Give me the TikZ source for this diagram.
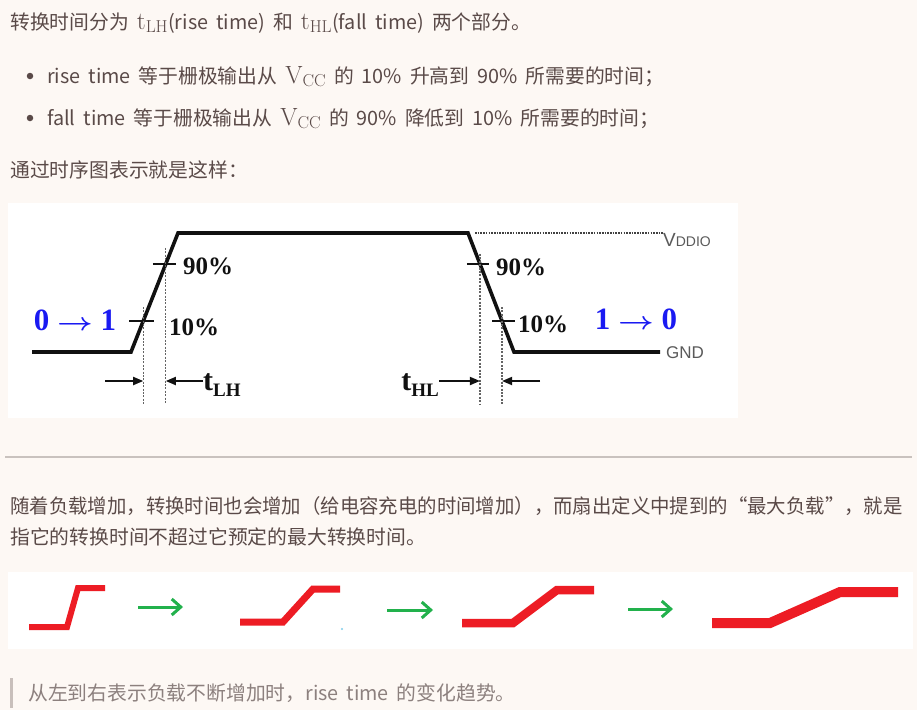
\documentclass[tikz,border=0pt]{standalone}
\usepackage{amsmath}
\usepackage[no-math]{fontspec}
\setmainfont[WordSpace=1.8]{Noto Sans CJK SC}
\newfontfamily\diagserif{Liberation Serif}
\newfontfamily\diagsans{Liberation Sans}
\usepackage{tikz}
\usetikzlibrary{arrows.meta,positioning,calc}
\definecolor{page}{HTML}{FDF8F4}
\definecolor{ink}{HTML}{5A4A48}
\definecolor{quoteink}{HTML}{8C807E}
\definecolor{quotebar}{HTML}{C8BFBB}
\definecolor{rulegray}{HTML}{C9C2BE}
\definecolor{wave}{HTML}{111111}
\definecolor{railgray}{HTML}{5A5A5A}
\definecolor{levelblue}{HTML}{1A1AF2}
\definecolor{loadred}{HTML}{ED1C24}
\definecolor{loadgreen}{HTML}{22B14C}
\definecolor{speck}{HTML}{7FCDEB}
\newcommand{\bigmath}[1]{{\fontsize{23.5}{24}\selectfont$#1$}}
\tikzset{
  bodyline/.style={anchor=base west,inner sep=0pt,text=ink,
                   font=\fontsize{19.8}{24}\selectfont},
  quoteline/.style={bodyline,text=quoteink},
  bulletdot/.style={circle,fill=ink,inner sep=0pt,minimum size=6.5pt},
  panel/.style={fill=white,draw=none},
  signal/.style={line width=3.6pt,draw=wave,line join=miter},
  tickmark/.style={line width=1.4pt,draw=wave},
  guide/.style={line width=1.1pt,draw=wave!65,dash pattern=on 2pt off 1.4pt},
  rail/.style={line width=1.2pt,draw=wave!80,dash pattern=on 1.6pt off 1.1pt},
  dimarr/.style={-{Triangle[length=10pt,width=8pt]},line width=1.8pt,draw=wave},
  pctlabel/.style={anchor=west,inner sep=0pt,text=wave,
                   font=\diagserif\bfseries\fontsize{25}{28}\selectfont},
  levellabel/.style={inner sep=0pt,text=levelblue,
                     font=\diagserif\bfseries\boldmath\fontsize{31}{34}\selectfont},
  timelabel/.style={inner sep=0pt,text=wave,
                    font=\diagserif\bfseries\fontsize{30}{32}\selectfont},
  raillabel/.style={anchor=west,inner sep=0pt,text=railgray,
                    font=\diagsans\fontsize{17}{19}\selectfont},
  loadwave/.style={draw=loadred,line join=miter},
  loadarr/.style={-{Straight Barb[length=9pt,width=16pt,line width=3pt]},
                  line width=3pt,draw=loadgreen}
}

\begin{document}
\begin{tikzpicture}[x=1pt,y=-1pt]
  \path[use as bounding box,fill=page] (0,0) rectangle (917,710);

  % text above the timing chart
  \node[bodyline] (intro) at (10,29)
    {转换时间分为 \bigmath{\mathrm{t}_{\mathrm{LH}}}(rise time) 和 \bigmath{\mathrm{t}_{\mathrm{HL}}}(fall time) 两个部分。};
  \node[bulletdot] (dotrise) at (30,76) {};
  \node[bodyline] (riseline) at (47,83)
    {rise time 等于栅极输出从 \bigmath{\mathrm{V}_{\mathrm{CC}}} 的 10\% 升高到 90\% 所需要的时间；};
  \node[bulletdot] (dotfall) at (30,118) {};
  \node[bodyline] (fallline) at (47,125)
    {fall time 等于栅极输出从 \bigmath{\mathrm{V}_{\mathrm{CC}}} 的 90\% 降低到 10\% 所需要的时间；};
  \node[bodyline] (chartcap) at (10,177) {通过时序图表示就是这样：};

  % timing chart
  \fill[panel] (8,203) rectangle (738,418);
  \coordinate (lowL) at (32,352);
  \coordinate (riseS) at (131,352);
  \coordinate (riseE) at (178,233);
  \coordinate (fallS) at (468,233);
  \coordinate (fallE) at (514,352);
  \coordinate (lowR) at (660,352);
  \coordinate (r10) at ($(riseS)!0.26!(riseE)$);
  \coordinate (r90) at ($(riseS)!0.74!(riseE)$);
  \coordinate (f90) at ($(fallS)!0.26!(fallE)$);
  \coordinate (f10) at ($(fallS)!0.74!(fallE)$);
  \coordinate (dimfoot) at (0,404);
  \coordinate (dimrow) at (0,381);

  \draw[signal] (lowL) -- (riseS) -- (riseE) -- (fallS) -- (fallE) -- (lowR);

  \node[raillabel] (vddio) at (663,240)
    {{\fontsize{19}{20}\selectfont V}{\fontsize{14}{15}\selectfont DDIO}};
  \node[raillabel] (gnd) at (666,353) {GND};
  \draw[rail] ([xshift=7pt]fallS) -- (vddio.west |- fallS);

  \draw[tickmark] ([xshift=-13pt]r90) -- ([xshift=10pt]r90);
  \draw[tickmark] ([xshift=-14pt]r10) -- ([xshift=11pt]r10);
  \draw[tickmark] ([xshift=-13pt]f90) -- ([xshift=9pt]f90);
  \draw[tickmark] ([xshift=-10pt]f10) -- ([xshift=13pt]f10);
  \draw[guide] ([yshift=16pt]r90) -- (r90 |- dimfoot);
  \draw[guide] ([yshift=14pt]r10) -- (r10 |- dimfoot);
  \draw[guide] ([yshift=10pt]f90) -- (f90 |- dimfoot);
  \draw[guide] ([yshift=14pt]f10) -- (f10 |- dimfoot);

  \node[pctlabel] (r90lbl) at (183,266) {90\%};
  \node[pctlabel] (r10lbl) at (169,327) {10\%};
  \node[pctlabel] (f90lbl) at (496,267) {90\%};
  \node[pctlabel] (f10lbl) at (518,324) {10\%};

  \node[levellabel] (rise01) at (75,320) {0 \scalebox{1.25}[1]{$\rightarrow$} 1};
  \node[levellabel] (fall10) at (636,319) {1 \scalebox{1.25}[1]{$\rightarrow$} 0};

  \coordinate (lhin) at (105,381);
  \node[timelabel,anchor=west] (tlh) at (203,385)
    {t\raisebox{-6pt}{\fontsize{19}{20}\selectfont LH}};
  \draw[dimarr] (lhin) -- (r10 |- dimrow);
  \draw[dimarr] (tlh.west |- dimrow) -- (r90 |- dimrow);
  \coordinate (hlin) at (540,381);
  \node[timelabel,anchor=east] (thl) at (439,385)
    {t\raisebox{-6pt}{\fontsize{19}{20}\selectfont HL}};
  \draw[dimarr] (thl.east |- dimrow) -- (f90 |- dimrow);
  \draw[dimarr] (hlin) -- (f10 |- dimrow);

  \draw[line width=1.2pt,draw=rulegray] (5,457) -- (912,457);

  \node[bodyline] (loadpara1) at (10,513)
    {\scalebox{0.98}[1]{随着负载增加，转换时间也会增加（给电容充电的时间增加），而扇出定义中提到的“最大负载”，就是}};
  \node[bodyline] (loadpara2) at (10,544) {指它的转换时间不超过它预定的最大转换时间。};

  % rise time under growing load
  \fill[panel] (8,572) rectangle (913,649);
  \draw[loadwave,line width=6pt] (29,627) -- (67,627) -- (78,588) -- (105,588);
  \draw[loadwave,line width=7pt] (240,622) -- (283,622) -- (313,589) -- (340,589);
  \draw[loadwave,line width=8.5pt] (462,623) -- (513,623) -- (557,590) -- (594,590);
  \draw[loadwave,line width=10pt] (712,623) -- (770,623) -- (840,592) -- (898,592);
  \fill[speck] (342,629) circle (1.2);
  \coordinate (arr1s) at (138,607);
  \coordinate (arr1e) at (183,607);
  \coordinate (arr2s) at (387,610);
  \coordinate (arr2e) at (433,610);
  \coordinate (arr3s) at (628,609);
  \coordinate (arr3e) at (673,609);
  \draw[loadarr] (arr1s) -- (arr1e);
  \draw[loadarr] (arr2s) -- (arr2e);
  \draw[loadarr] (arr3s) -- (arr3e);

  \fill[quotebar] (10,678) rectangle (13,708);
  \node[quoteline] (quote) at (28,700) {从左到右表示负载不断增加时，rise time 的变化趋势。};
\end{tikzpicture}
\end{document}
